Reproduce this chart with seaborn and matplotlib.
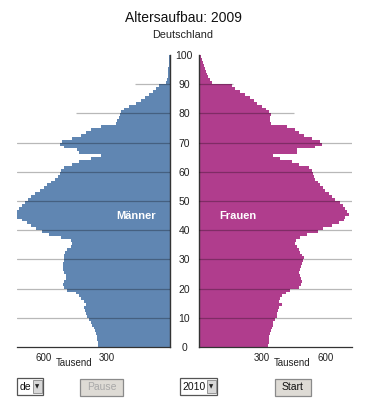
import numpy as np
import pandas as pd
import matplotlib
matplotlib.use("Agg")
import matplotlib.pyplot as plt
from matplotlib.patches import Rectangle
import seaborn as sns

# ---------------- data (thousands, ages 0..99) ----------------
ages = list(range(0, 100))
maenner = [340, 341, 344, 347, 352, 355, 360, 368, 376, 384,
           392, 400, 405, 408, 400, 408, 421, 432, 448, 488,
           504, 507, 504, 496, 496, 504, 507, 507, 507, 505,
           504, 504, 500, 488, 472, 467, 470, 520, 576, 608,
           635, 660, 680, 703, 727, 743, 735, 720, 705, 690,
           675, 660, 640, 619, 600, 584, 568, 547, 533, 523,
           520, 504, 464, 432, 377, 329, 432, 440, 504, 523,
           512, 464, 424, 400, 377, 329, 257, 252, 241, 238,
           233, 217, 193, 161, 137, 118, 97, 81, 66, 50,
           18, 12, 9, 7, 6, 5, 4, 3, 2, 1]
frauen = [328, 331, 333, 334, 337, 341, 345, 350, 353, 361,
          369, 372, 377, 382, 393, 382, 385, 393, 414, 433,
          473, 484, 489, 484, 481, 473, 478, 484, 489, 494,
          500, 489, 481, 473, 465, 457, 462, 481, 513, 568,
          592, 633, 664, 688, 696, 712, 704, 696, 685, 669,
          648, 633, 617, 601, 590, 577, 564, 553, 545, 542,
          537, 521, 473, 441, 385, 353, 468, 465, 553, 585,
          577, 537, 497, 473, 457, 420, 341, 337, 337, 341,
          334, 318, 298, 277, 261, 242, 218, 194, 170, 154,
          60, 50, 42, 36, 31, 26, 21, 16, 12, 8]
x_ticks = [300, 600]
y_ticks = [0, 10, 20, 30, 40, 50, 60, 70, 80, 90, 100]
title = "Altersaufbau: 2009"
subtitle = "Deutschland"

df = pd.DataFrame({"age": ages, "m": maenner, "f": frauen})

sns.set_style("white")
plt.rcParams["font.family"] = ["Liberation Sans", "DejaVu Sans"]

W, H = 366, 400
fig = plt.figure(figsize=(W / 100, H / 100), dpi=100)

def fx(px):
    return px / W

def fy(py):
    return 1 - py / H

XMAX = 728
ax_bottom = fy(347)
ax_h = fy(55) - fy(347)
axL = fig.add_axes([fx(17), ax_bottom, fx(169.5) - fx(17), ax_h])
axR = fig.add_axes([fx(199.3), ax_bottom, fx(352) - fx(199.3), ax_h])

male_c = "#6086b2"
female_c = "#b03d8d"
sns.histplot(data=df, y="age", weights="m", binwidth=1, binrange=(0, 100),
             element="step", fill=True, color=male_c, alpha=1, linewidth=0,
             ax=axL)
sns.histplot(data=df, y="age", weights="f", binwidth=1, binrange=(0, 100),
             element="step", fill=True, color=female_c, alpha=1, linewidth=0,
             ax=axR)

axL.set_xlim(XMAX, 0)
axR.set_xlim(0, XMAX)
for ax in (axL, axR):
    ax.set_ylim(0, 100)
    ax.set_xlabel("")
    ax.set_ylabel("")
    ax.set_facecolor("none")
    ax.set_xticks(x_ticks)
    ax.set_xticklabels([str(t) for t in x_ticks], fontsize=7, color="#222222")
    ax.tick_params(axis="x", direction="out", length=2.5, width=0.8,
                   pad=1.5, colors="#333333", labelcolor="#222222")
    ax.spines["top"].set_visible(False)
    ax.spines["bottom"].set_color("#333333")
    ax.spines["bottom"].set_linewidth(0.9)

# gridlines over the bars
grid_kw = dict(color="black", alpha=0.28, lw=0.9, zorder=5)
for y in y_ticks[1:8]:
    axL.axhline(y, **grid_kw)
    axR.axhline(y, **grid_kw)
axL.hlines(80, 0, 445, **grid_kw)
axL.hlines(90, 0, 163, **grid_kw)
axR.hlines(80, 0, 450, **grid_kw)
axR.hlines(90, 0, 163, **grid_kw)

axL.spines["left"].set_visible(False)
axL.spines["right"].set_visible(True)
axL.spines["right"].set_color("#333333")
axL.spines["right"].set_linewidth(1.0)
axL.set_yticks([])
axR.spines["right"].set_visible(False)
axR.spines["left"].set_color("#333333")
axR.spines["left"].set_linewidth(1.0)
axR.set_yticks(y_ticks)
axR.set_yticklabels([str(t) for t in y_ticks], fontsize=7.5, color="#222222")
axR.tick_params(axis="y", length=0, pad=11)
for lab in axR.get_yticklabels():
    lab.set_horizontalalignment("center")

axL.text(0.78, 0.448, "Männer", transform=axL.transAxes, color="white",
         fontsize=8, fontweight="bold", ha="center", va="center", zorder=6)
axR.text(0.25, 0.448, "Frauen", transform=axR.transAxes, color="white",
         fontsize=8, fontweight="bold", ha="center", va="center", zorder=6)

# overlay in pixel coords for titles and widgets
ov = fig.add_axes([0, 0, 1, 1], zorder=10)
ov.set_xlim(0, W)
ov.set_ylim(H, 0)
ov.axis("off")
ov.patch.set_alpha(0)

ov.text(183, 18, title, fontsize=10, ha="center", va="center", color="#111111")
ov.text(183, 35, subtitle, fontsize=7.8, ha="center", va="center", color="#222222")
ov.text(74, 363.5, "Tausend", fontsize=7, ha="center", va="center", color="#222222")
ov.text(292.5, 363.5, "Tausend", fontsize=7, ha="center", va="center", color="#222222")

def select(x0, x1, label):
    ov.add_patch(Rectangle((x0, 378), x1 - x0, 17, facecolor="white",
                           edgecolor="#555555", lw=0.9))
    ov.add_patch(Rectangle((x1 - 10, 380), 8.5, 13, facecolor="#d8d8d8",
                           edgecolor="#888888", lw=0.6))
    ov.text(x1 - 5.8, 386.5, "▼", fontsize=4, ha="center", va="center",
            color="#222222", family="DejaVu Sans")
    ov.text(x0 + 2.5, 386.5, label, fontsize=7.5, ha="left", va="center",
            color="#111111")

def button(x0, x1, label, tc):
    ov.add_patch(Rectangle((x0, 379), x1 - x0, 17, facecolor="#dedbd5",
                           edgecolor="#8a8a8a", lw=0.9))
    ov.text((x0 + x1) / 2, 387.5, label, fontsize=7.5, ha="center",
            va="center", color=tc)

select(17, 43, "de")
button(80, 123, "Pause", "#a8a8a8")
select(180, 217, "2010")
button(275, 311, "Start", "#111111")

fig.savefig("out.png", dpi=100)
